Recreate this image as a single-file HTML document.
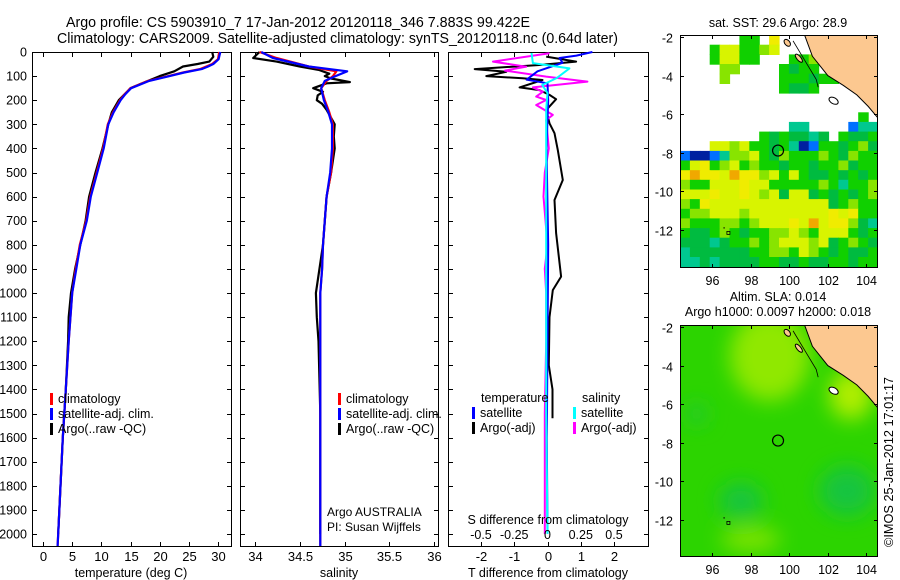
<!DOCTYPE html>
<html><head><meta charset="utf-8"><style>
html,body{margin:0;padding:0;background:#fff;}
svg{display:block;font-family:"Liberation Sans",Arial,sans-serif;}
</style></head><body>
<svg id="fig" width="900" height="580" viewBox="0 0 900 580" xmlns="http://www.w3.org/2000/svg"></svg>
<script>
// ---------- DATA ----------
const tClimDepth = [0,30,50,60,70,85,100,120,150,175,200,250,300,400,500,600,700,800,900,1000,1200,1400,1600,1800,2000,2050];
const tClimVals  = [30.2,30,29,28,27,24,21.5,18,15,14,13.2,12,11.1,10.3,9.2,8.1,7.4,6.3,5.6,5.0,4.4,3.9,3.4,3.0,2.6,2.5];
const tSatVals   = [30.4,30.1,29.2,28.3,27.3,24.2,21.7,18.2,15.1,14.1,13.3,12.1,11.2,10.4,9.3,8.2,7.5,6.4,5.7,5.0,4.4,3.9,3.4,3.0,2.6,2.5];
const tArgoDepth = [0,20,40,50,60,80,100,130,150,200,250,300,400,500,600,700,800,900,1000,1100,1200,1400,1600,1800,2000];
const tArgoVals  = [29,29.2,28.5,26.5,24,22.5,20,17,15,13,11.8,11.2,10.2,9,7.9,7.3,6.4,5.5,4.8,4.4,4.3,3.9,3.4,3.0,2.6];

const sClimDepth = [0,25,60,80,100,120,150,200,250,300,400,500,600,700,800,900,1000,1200,1500,2000,2050];
const sClimVals  = [34.05,34.24,34.6,34.91,34.87,34.8,34.74,34.78,34.83,34.87,34.87,34.85,34.8,34.78,34.76,34.75,34.73,34.73,34.73,34.73,34.73];
const sSatVals   = [34.07,34.2,34.6,35.03,34.9,34.78,34.74,34.77,34.82,34.86,34.86,34.84,34.8,34.78,34.76,34.75,34.73,34.73,34.73,34.73,34.73];
const sArgoDepth = [0,25,40,60,75,90,100,110,125,130,150,165,180,200,215,240,300,350,400,500,600,800,1000,1100,1200,1500,2000];
const sArgoVals  = [34.05,33.98,34.24,34.5,34.72,34.83,34.78,34.85,35.06,34.8,34.65,34.76,34.7,34.69,34.75,34.8,34.89,34.88,34.89,34.85,34.8,34.76,34.68,34.69,34.71,34.73,34.73];

const dTSatDepth = [0,15,25,45,80,115,130,200,400,800,1200,1600,2000];
const dTSatVals  = [1.35,0.87,0.36,0.45,-0.3,-0.63,0,0.02,-0.03,0.02,0,-0.02,0];
const dSSatDepth = [4,46,68,108,137,170,240,500,1000,1500,2000];
const dSSatVals  = [-0.12,-0.11,0.165,0.07,-0.04,0,-0.01,-0.01,-0.01,-0.01,0];
const dTArgoDepth = [19,40,54,71,82,100,109,116,147,158,178,196,241,296,337,407,531,614,751,932,988,1100,1300,1400,1520];
const dTArgoVals  = [-0.04,0.86,-0.24,-2.19,-1.24,-1.84,-0.75,-0.15,-0.84,-0.24,0.06,0.26,-0.04,0.06,0.21,0.31,0.46,0.21,0.26,0.41,0.16,0.06,0.04,0.15,0.15];
const dSArgoDepth = [5,40,61,77,102,123,147,165,185,199,220,261,282,400,500,600,800,900,1000,1200,1500,2000];
const dSArgoVals  = [0.015,-0.41,-0.16,-0.32,-0.01,0.30,-0.11,-0.035,-0.085,-0.01,-0.085,0.04,-0.01,0.01,-0.02,-0.03,0,-0.02,-0.01,-0.01,-0.02,-0.02];

const depthTicks = [0,100,200,300,400,500,600,700,800,900,1000,1100,1200,1300,1400,1500,1600,1700,1800,1900,2000];
const tempTicks = [0,5,10,15,20,25,30];
const salTicks = [34,34.5,35,35.5,36];
const salTickLabels = ["34","34.5","35","35.5","36"];
const dTTicks = [-2,-1,0,1,2];
const dSTicks = [-0.5,-0.25,0,0.25,0.5];
const dSTickLabels = ["-0.5","-0.25","0","0.25","0.5"];
const latTicks = [-2,-4,-6,-8,-10,-12];
const lonTicks = [96,98,100,102,104];
const argoLon = 99.422, argoLat = -7.883;

const sstRows = [
"......gg.Y..........",
"...gyyggly..........",
"...gyygg...ggll.....",
"....ll....gGgg.l....",
"....l.....gggGgg....",
"..........gGGg......",
"....................",
"....................",
"..................g.",
"...........cc....bcc",
"........gGgGGcG.gGGg",
"...yylyggGgcnbggGglG",
"bnnbcllygGlggglgGlgg",
"gyYglyglggGggGgglGgg",
"YoYYyoYYlygygGGgGgGg",
"lggyyyYyyggggglgcggl",
"yyyYyyYylyGyyGgGgGgl",
"lgYyyyyyyyyyyyyGglgg",
"gllyyylyyyyyyyyYyYgg",
"lgggllglyyyYyoyYYlGc",
"gGGglgGggllylgyyygGg",
"GGGcGgglglyyylyGglgG",
"cGGGGGGggllgylgGgGGg",
"ccGcGGGGggGGgGGggGgg"];
const sstColors = {g:"#10d000",G:"#00bb40",l:"#88e400",y:"#d8f400",Y:"#f0ec00",o:"#f0a800",b:"#0070ff",c:"#00c890",n:"#0020a0"};

// ---------- DRAW ----------
const NS="http://www.w3.org/2000/svg";
const svg=document.getElementById('fig');
function el(tag,attrs,parent){const e=document.createElementNS(NS,tag);for(const k in attrs)e.setAttribute(k,attrs[k]);(parent||svg).appendChild(e);return e;}
function txt(s,x,y,anchor,size,parent,extra){const t=el('text',Object.assign({x:x,y:y,'text-anchor':anchor||'start','font-size':size||13,fill:'#000'},extra||{}),parent);t.textContent=s;return t;}

const Y0=52, Y1=546, DPX=0.241;
const yD=d=>Y0+d*DPX;
function linScale(d0,d1,p0,p1){return v=>p0+(v-d0)/(d1-d0)*(p1-p0);}

let t1=txt("Argo profile: CS 5903910_7 17-Jan-2012 20120118_346 7.883S 99.422E",66,27,'start',14.5,svg,{textLength:464,lengthAdjust:'spacingAndGlyphs'});

let t2=txt("Climatology: CARS2009. Satellite-adjusted climatology: synTS_20120118.nc (0.64d later)",57,43,'start',14.5,svg,{textLength:561,lengthAdjust:'spacingAndGlyphs'});


function panel(name,x0,x1){
  const g=el('g',{});
  
  
  el('rect',{x:x0+0.5,y:Y0+0.5,width:x1-x0,height:Y1-Y0,fill:'#fff',stroke:'#000','stroke-width':1},g);
  depthTicks.forEach(d=>{const y=Math.round(yD(d))+0.5;
    el('line',{x1:x0,y1:y,x2:x0+5,y2:y,stroke:'#000'},g);
    el('line',{x1:x1-4,y1:y,x2:x1+1,y2:y,stroke:'#000'},g);});
  return g;
}
function xTicks(g,x1s,vals,labels,x0,x1,ylab){
  vals.forEach((v,i)=>{const x=Math.round(x1s(v))+0.5;
    el('line',{x1:x,y1:Y0,x2:x,y2:Y0+5,stroke:'#000'},g);
    el('line',{x1:x,y1:Y1-4,x2:x,y2:Y1+1,stroke:'#000'},g);
    if(ylab){const t=txt(labels[i],x,ylab,'middle',13,g);}
  });
}
function line(g,xs,depths,vals,color,w,name){
  const pts=vals.map((v,i)=>xs(v).toFixed(1)+','+yD(depths[i]).toFixed(1)).join(' ');
  const p=el('polyline',{points:pts,fill:'none',stroke:color,'stroke-width':w,'stroke-linejoin':'round'},g);
  
}
function legend(g,x,y,items){
  items.forEach((it,i)=>{
    const r=el('rect',{x:x,y:y+i*15-10,width:3,height:12,fill:it[1]},g);
    
    const t=txt(it[0],x+8,y+i*15,'start',12.5,g);
    
  });
}

const yl=el('g',{});

depthTicks.forEach(d=>{txt(String(d),27,yD(d)+4.5,'end',12.5,yl);});

const g1=panel('temperature-panel',32,231);
const xT=linScale(0,30,43,218);
xTicks(g1,xT,tempTicks,tempTicks.map(String),32,231,561);
line(g1,xT,tArgoDepth,tArgoVals,'#000',2.2,'argo-temperature-line');
line(g1,xT,tClimDepth,tClimVals,'#f00',2.2,'climatology-temperature-line');
line(g1,xT,tClimDepth,tSatVals,'#00f',2.2,'satellite-temperature-line');
legend(g1,50,403,[["climatology","#f00"],["satellite-adj. clim.","#00f"],["Argo(..raw -QC)","#000"]]);
let a1=txt("temperature (deg C)",131,577,'middle',12.5);

const g2=panel('salinity-panel',240,438);
const xS=linScale(34,36,255,434);
xTicks(g2,xS,salTicks,salTickLabels,240,438,561);
line(g2,xS,sArgoDepth,sArgoVals,'#000',2.2,'argo-salinity-line');
line(g2,xS,sClimDepth,sClimVals,'#f00',2.2,'climatology-salinity-line');
line(g2,xS,sClimDepth,sSatVals,'#00f',2.2,'satellite-salinity-line');
legend(g2,338,403,[["climatology","#f00"],["satellite-adj. clim.","#00f"],["Argo(..raw -QC)","#000"]]);
txt("Argo AUSTRALIA",327,516,'start',12,g2);
txt("PI: Susan Wijffels",327,531,'start',12,g2);
let a2=txt("salinity",339,577,'middle',12.5);

const g3=panel('difference-panel',448,648);
const xdT=linScale(-2,2,481,614);
const xdS=linScale(-0.5,0.5,481,614);
xTicks(g3,xdT,dTTicks,dTTicks.map(String),448,648,561);
line(g3,xdT,dTArgoDepth,dTArgoVals,'#000',2,'argo-temperature-diff-line');
line(g3,xdS,dSArgoDepth,dSArgoVals,'#f0f',2,'argo-salinity-diff-line');
line(g3,xdT,dTSatDepth,dTSatVals,'#00f',2,'satellite-temperature-diff-line');
line(g3,xdS,dSSatDepth,dSSatVals,'#0ff',2,'satellite-salinity-diff-line');
txt("temperature",481,402,'start',12.5,g3);
txt("salinity",582,402,'start',12.5,g3);
legend(g3,472,417,[["satellite","#00f"],["Argo(-adj)","#000"]]);
legend(g3,573,417,[["satellite","#0ff"],["Argo(-adj)","#f0f"]]);
txt("S difference from climatology",548,524,'middle',12.5,g3);
dSTicks.forEach((v,i)=>{txt(dSTickLabels[i],xdS(v),539,'middle',12.5,g3);});
let a3=txt("T difference from climatology",548,577,'middle',12.5);

const MX0=680, MX1=877, LONPX=19.3;
const lonX=lon=>712+(lon-96)*LONPX;
function drawMap(name,top,bottom,yLat0,fill){
  const g=el('g',{});
  
  const latY=lat=>yLat0+(-2-lat)*LONPX;
  const cid='clip'+name;
  const cp=el('clipPath',{id:cid},g);el('rect',{x:MX0,y:top,width:MX1-MX0,height:bottom-top},cp);
  const inner=el('g',{'clip-path':'url(#'+cid+')'},g);
  el('rect',{x:MX0,y:top,width:MX1-MX0,height:bottom-top,fill:'#fff'},inner);
  fill(inner,latY);
  const coast=[[100.8,-1.9],[101.2,-3.0],[102.0,-4.0],[102.8,-4.5],[103.5,-5.0],[104.1,-5.6],[104.6,-6.2]];
  const pts=coast.map(c=>lonX(c[0]).toFixed(1)+','+latY(c[1]).toFixed(1));
  const land=el('polygon',{points:pts.join(' ')+' '+lonX(104.7)+','+latY(-1.8),fill:'#fcc890',stroke:'#000','stroke-width':1},inner);
  
  el('polyline',{points:[[100.2,-2.2],[100.8,-3.2],[101.4,-4.2],[101.5,-4.6]].map(c=>lonX(c[0])+','+latY(c[1])).join(' '),fill:'none',stroke:'#000','stroke-width':0.8},inner);
  el('ellipse',{cx:lonX(99.9),cy:latY(-2.3),rx:2.5,ry:4,fill:'#fcc890',stroke:'#000','stroke-width':1,transform:'rotate(-40 '+lonX(99.9)+' '+latY(-2.3)+')'},inner);
  el('ellipse',{cx:lonX(100.5),cy:latY(-3.1),rx:2,ry:5,fill:'#fcc890',stroke:'#000','stroke-width':1,transform:'rotate(-40 '+lonX(100.5)+' '+latY(-3.1)+')'},inner);
  el('ellipse',{cx:lonX(102.3),cy:latY(-5.3),rx:5,ry:3,fill:'#fff',stroke:'#000','stroke-width':1,transform:'rotate(30 '+lonX(102.3)+' '+latY(-5.3)+')'},inner);
  el('rect',{x:lonX(96.85)-1.5,y:latY(-12.15)-1.5,width:3,height:3,fill:'none',stroke:'#000','stroke-width':0.8},inner);
  el('rect',{x:lonX(96.6),y:latY(-11.85),width:1,height:1.5,fill:'#000'},inner);
  const c=el('circle',{cx:lonX(argoLon),cy:latY(argoLat),r:5.5,fill:'none',stroke:'#000','stroke-width':1.2},inner);
  
  el('rect',{x:MX0+0.5,y:top+0.5,width:MX1-MX0,height:bottom-top,fill:'none',stroke:'#000'},g);
  latTicks.forEach(l=>{const y=Math.round(latY(l))+0.5;
    el('line',{x1:MX0,y1:y,x2:MX0+4,y2:y,stroke:'#000'},g);el('line',{x1:MX1-3,y1:y,x2:MX1+1,y2:y,stroke:'#000'},g);
    txt(String(l),673,y+5,'end',12.5,g);});
  lonTicks.forEach(l=>{const x=Math.round(lonX(l))+0.5;
    el('line',{x1:x,y1:top,x2:x,y2:top+4,stroke:'#000'},g);el('line',{x1:x,y1:bottom-3,x2:x,y2:bottom+1,stroke:'#000'},g);
    txt(String(l),x,bottom+18,'middle',12.5,g);});
}
drawMap('sst-map',35,267,37,(g,latY)=>{
  const cw=(104.6-94.34)/20;
  sstRows.forEach((row,r)=>{for(let i=0;i<row.length;i++){const ch=row[i];if(ch==='.')continue;
    const x=lonX(94.34+i*cw), y=latY(-1.9-r*0.5);
    el('rect',{x:x.toFixed(1),y:y.toFixed(1),width:(cw*LONPX+0.6).toFixed(1),height:(0.5*LONPX+0.6).toFixed(1),fill:sstColors[ch]},g);}});
});
drawMap('sla-map',325,556,327,(g,latY)=>{
  const f=el('filter',{id:'blurSla',x:'-50%',y:'-50%',width:'200%',height:'200%'},g);
  el('feGaussianBlur',{stdDeviation:10},f);
  el('rect',{x:MX0,y:325,width:MX1-MX0,height:231,fill:'#2cd400'},g);
  const bl=el('g',{filter:'url(#blurSla)'},g);
  el('ellipse',{cx:lonX(99),cy:latY(-3.5),rx:40,ry:45,fill:'#90e800'},bl);
  el('ellipse',{cx:lonX(103.2),cy:latY(-5.5),rx:22,ry:25,fill:'#b0ee00'},bl);
  el('ellipse',{cx:lonX(98),cy:latY(-13),rx:30,ry:12,fill:'#80e400'},bl);
  el('ellipse',{cx:lonX(97.5),cy:latY(-11),rx:22,ry:18,fill:'#18c440'},bl);
  el('ellipse',{cx:lonX(103),cy:latY(-10.5),rx:28,ry:25,fill:'#18c440'},bl);
  el('ellipse',{cx:lonX(95.2),cy:latY(-6.5),rx:10,ry:10,fill:'#20c838'},bl);
});
let m1=txt("sat. SST: 29.6  Argo: 28.9",778,27,'middle',12.5);
let m2=txt("Altim. SLA: 0.014",778,301,'middle',12.5);
let m3=txt("Argo h1000: 0.0097 h2000: 0.018",778,316,'middle',12.5);
let cr=txt("©IMOS 25-Jan-2012 17:01:17",0,0,'middle',12.5,svg,{transform:'translate(893,462) rotate(-90)',textLength:170,lengthAdjust:'spacingAndGlyphs'});

</script>
</body></html>
